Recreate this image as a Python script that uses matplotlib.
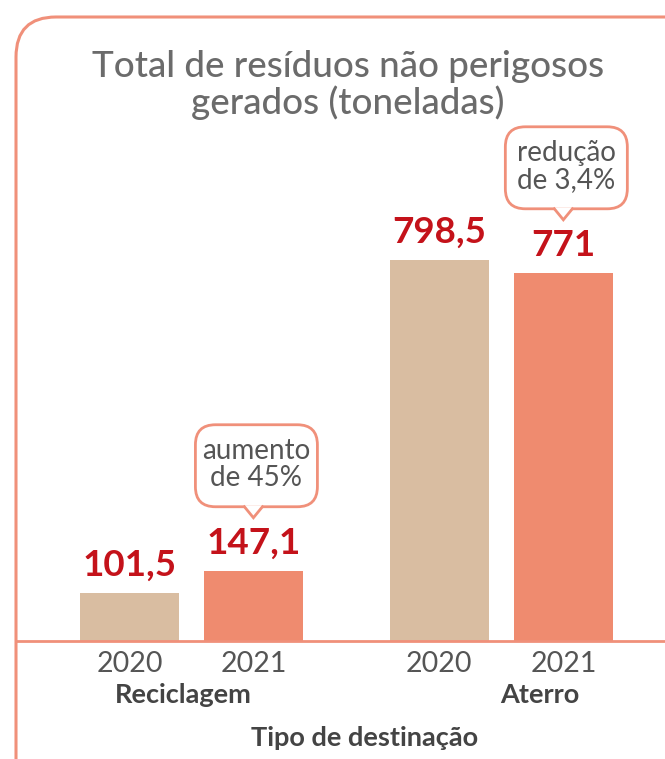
import matplotlib
matplotlib.use("Agg")
import matplotlib.pyplot as plt
import matplotlib.transforms as mtransforms
from matplotlib.patches import FancyBboxPatch, Polygon
from matplotlib.lines import Line2D

plt.rcParams['font.family'] = ['Lato', 'DejaVu Sans']

# data
groups = ["Reciclagem", "Aterro"]
years = ["2020", "2021", "2020", "2021"]
positions = [0, 1, 2.5, 3.5]
values = [101.5, 147.1, 798.5, 771]
value_labels = ["101,5", "147,1", "798,5", "771"]
# callouts: (bar index, text)
notes = [(1, "aumento\nde 45%"), (3, "redução\nde 3,4%")]

tan = "#D9BDA1"
salmon = "#EF8B6F"
edge = "#F0907A"
red = "#C4121A"
grey = "#6B6B6B"

W, H = 665, 759
fig = plt.figure(figsize=(W / 100, H / 100), dpi=100)
px = mtransforms.Affine2D().scale(1 / 100) + fig.dpi_scale_trans

# outer rounded frame (runs off the right and bottom edges)
frame = FancyBboxPatch((16, -60), 720, H - 17 + 60,
                       boxstyle="round,pad=0,rounding_size=40",
                       transform=px, fc="none", ec=edge, lw=2.2)
fig.patches.append(frame)

ax = fig.add_axes([16 / W, 1 - 641 / H, 1 - 16 / W, 511 / H])
ax.set_xlim(-0.915, 4.32)
ax.set_ylim(0, 1070)
ax.patch.set_alpha(0)
for s in ["top", "left", "right"]:
    ax.spines[s].set_visible(False)
ax.spines["bottom"].set_color(edge)
ax.spines["bottom"].set_linewidth(2)
ax.set_yticks([])

colors = [tan, salmon, tan, salmon]
ax.bar(positions, values, width=0.8, color=colors, zorder=2)

ax.set_xticks(positions)
ax.set_xticklabels(years, fontsize=20.5, color="#555555")
ax.tick_params(axis="x", length=0, pad=7)

for x, v, lab in zip(positions, values, value_labels):
    ax.annotate(lab, xy=(x, v), xytext=(0, 11), textcoords="offset pixels",
                ha="center", va="bottom", fontsize=26.5, fontweight="bold",
                color=red)

# group labels
group_x = [(positions[0] + positions[1]) / 2, (positions[2] + positions[3]) / 2]
group_dx = [-8, 38]
for gx, dx, g in zip(group_x, group_dx, groups):
    ax.annotate(g, xy=(gx, 0), xycoords=ax.get_xaxis_transform(),
                xytext=(dx, -54), textcoords="offset pixels",
                ha="center", va="center", fontsize=19.5, fontweight="bold",
                color="#444444")

fig.text(365 / W, 1 - 738 / H, "Tipo de destinação", ha="center", va="center",
         fontsize=19.5, fontweight="bold", color="#444444")

fig.text(348 / W, 1 - 85 / H, "Total de resíduos não perigosos\ngerados (toneladas)",
         ha="center", va="center", fontsize=26.5, color=grey, linespacing=1.05,
         fontweight="medium")

# speech bubbles above the 2021 bars
for i, txt in notes:
    x, v = positions[i], values[i]
    tr = px + mtransforms.ScaledTranslation(x, v, ax.transData) - \
        mtransforms.ScaledTranslation(0, 0, mtransforms.IdentityTransform())
    bw, bh = 122, 82
    by = 64
    box = FancyBboxPatch((-bw / 2 + 3, by), bw, bh,
                         boxstyle="round,pad=0,rounding_size=20",
                         transform=tr, fc="white", ec=edge, lw=2, zorder=4,
                         clip_on=False)
    ax.add_patch(box)
    tri = Polygon([(-9, by + 1.5), (0, by - 11), (9, by + 1.5)], closed=True,
                  transform=tr, fc="white", ec="none", zorder=5, clip_on=False)
    ax.add_patch(tri)
    ax.add_line(Line2D([-9, 0, 9], [by, by - 11, by], transform=tr,
                       color=edge, lw=2, zorder=6, clip_on=False,
                       solid_joinstyle="miter"))
    ax.text(3, by + bh / 2 + 1, txt, transform=tr, ha="center", va="center",
            fontsize=20, color="#555555", linespacing=1.05, zorder=7)

fig.savefig("out.png", dpi=100)
